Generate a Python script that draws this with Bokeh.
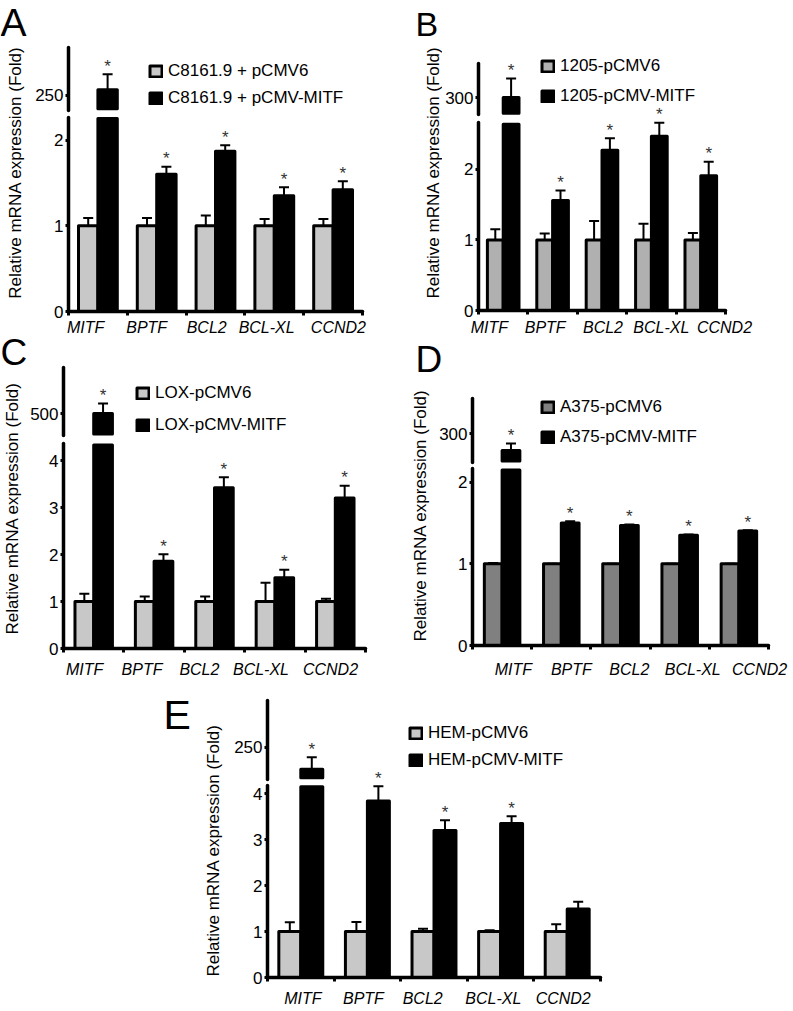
import numpy as np
from bokeh.plotting import figure
from bokeh.models import (Range1d, LinearAxis, FixedTicker, ColumnDataSource, CDSView,
                          BooleanFilter, Legend, LegendItem, Spacer)
from bokeh.layouts import row, column
from bokeh.core.properties import value
from bokeh.embed import file_html
from bokeh.resources import INLINE

FONT = "Liberation Sans"

# ---------------- data ----------------
genes = ["MITF", "BPTF", "BCL2", "BCL-XL", "CCND2"]
y_title = "Relative mRNA expression (Fold)"

a_series = ["C8161.9 + pCMV6", "C8161.9 + pCMV-MITF"]
a_ctrl = [1.0, 1.0, 1.0, 1.0, 1.0]
a_ctrl_err = [0.09, 0.09, 0.12, 0.08, 0.08]
a_mitf = [261.0, 1.60, 1.87, 1.35, 1.42]
a_mitf_err = [31.0, 0.09, 0.07, 0.10, 0.10]
a_sig = [True, True, True, True, True]
a_low_ticks = [0, 1, 2]
a_up_ticks = [250]

b_series = ["1205-pCMV6", "1205-pCMV-MITF"]
b_ctrl = [1.0, 1.0, 1.0, 1.0, 1.0]
b_ctrl_err = [0.15, 0.09, 0.27, 0.23, 0.10]
b_mitf = [301.0, 1.56, 2.27, 2.47, 1.91]
b_mitf_err = [38.0, 0.14, 0.17, 0.19, 0.20]
b_sig = [True, True, True, True, True]
b_low_ticks = [0, 1, 2]
b_up_ticks = [300]

c_series = ["LOX-pCMV6", "LOX-pCMV-MITF"]
c_ctrl = [1.0, 1.0, 1.0, 1.0, 1.0]
c_ctrl_err = [0.17, 0.11, 0.11, 0.40, 0.06]
c_mitf = [500.0, 1.86, 3.43, 1.51, 3.21]
c_mitf_err = [30.0, 0.15, 0.22, 0.17, 0.26]
c_sig = [True, True, True, True, True]
c_low_ticks = [0, 1, 2, 3, 4]
c_up_ticks = [500]

d_series = ["A375-pCMV6", "A375-pCMV-MITF"]
d_ctrl = [1.0, 1.0, 1.0, 1.0, 1.0]
d_ctrl_err = [0.01, 0.0, 0.0, 0.0, 0.0]
d_mitf = [266.0, 1.50, 1.47, 1.35, 1.40]
d_mitf_err = [14.0, 0.02, 0.01, 0.01, 0.01]
d_sig = [True, True, True, True, True]
d_low_ticks = [0, 1, 2]
d_up_ticks = [300]

e_series = ["HEM-pCMV6", "HEM-pCMV-MITF"]
e_ctrl = [1.0, 1.0, 1.0, 1.0, 1.0]
e_ctrl_err = [0.20, 0.21, 0.06, 0.03, 0.16]
e_mitf = [206.0, 3.84, 3.20, 3.35, 1.49]
e_mitf_err = [24.0, 0.32, 0.22, 0.16, 0.16]
e_sig = [True, True, True, True, False]
e_low_ticks = [0, 1, 2, 3, 4]
e_up_ticks = [250]


# ---------------- helpers ----------------
def blank_fig(w, h):
    p = figure(width=w, height=h, x_range=Range1d(0, w), y_range=Range1d(0, h),
               min_border=0, toolbar_location=None, output_backend="svg", title=None,
               x_axis_location=None, y_axis_location=None, outline_line_color=None,
               background_fill_color="white", border_fill_color="white")
    p.grid.visible = False
    return p


def add_text(p, x, y, text, size, angle=0.0, align="left"):
    p.text(x=[x], y=[y], text=[text], angle=angle, text_font=value(FONT),
           text_font_size=value(size), text_align=align, text_baseline="middle",
           text_color="black")


def line_axis(range_name, bounds):
    ax = LinearAxis(y_range_name=range_name, bounds=bounds, ticker=FixedTicker(ticks=[]))
    ax.axis_line_width = 3.5
    ax.axis_line_color = "black"
    ax.axis_line_cap = "round"
    ax.major_tick_out = 0
    ax.major_tick_in = 0
    ax.minor_tick_out = 0
    ax.minor_tick_in = 0
    ax.major_tick_line_color = None
    ax.minor_tick_line_color = None
    ax.major_label_standoff = 0
    ax.major_label_text_font_size = "0px"
    return ax


def main_fig(g, series, ctrl, ctrl_err, trt, trt_err, sig, low_ticks, up_ticks):
    n = len(genes)
    W = g["x1"] - g["x0"]
    H = g["y1"] - g["y0"]
    unit = g["unit"]
    lo_top = (g["base"] - g["y0"]) / unit
    lhi = (g["base"] - g["brk_bot"]) / unit
    s, tv, tp = g["s"], g["tv"], g["tp"]
    up_start = tv - (g["base"] - tp) * s
    up_end = tv + (tp - g["y0"]) * s
    ulo = tv - (g["brk_top"] - tp) * s
    uhi = tv + (tp - g["axis_top"]) * s
    # bar ends at the break, inset by half the outline width
    lo_cut = (g["base"] - g["brk_bot"] - 1.5) / unit
    up_cut = tv - (g["brk_top"] - 1.5 - tp) * s

    p = figure(width=W, height=H, x_range=Range1d(0, n), y_range=Range1d(0, lo_top),
               min_border_left=g["ax"] - g["x0"], min_border_right=g["x1"] - g["frx"],
               min_border_top=0, min_border_bottom=g["y1"] - g["base"], title=None,
               y_axis_location=None,
               toolbar_location=None, output_backend="svg", outline_line_color=None,
               background_fill_color="white", border_fill_color="white")
    p.extra_y_ranges = {"up": Range1d(up_start, up_end)}
    p.grid.visible = False

    bw = g["bw"]
    centers = np.arange(n) + 0.5
    ctrl = np.array(ctrl, float)
    trt = np.array(trt, float)
    src = ColumnDataSource(dict(
        xc=centers - bw / 2, xt=centers + bw / 2,
        ctrl=ctrl, ctrl_top=ctrl + np.array(ctrl_err),
        trt=trt, trt_top=trt + np.array(trt_err),
        star=["*"] * n,
    ))
    above = [bool(v > lhi) for v in trt]
    below = [not a for a in above]
    low_star = [bool(sig[i] and not above[i]) for i in range(n)]
    up_star = [bool(sig[i] and above[i]) for i in range(n)]

    def view(mask):
        return CDSView(filter=BooleanFilter(mask))

    bar_kw = dict(line_color="black", line_width=3, line_join="round")
    r_ctrl = p.vbar(x="xc", width=bw, bottom=0, top="ctrl", source=src,
                    fill_color=g["gray"], **bar_kw)
    r_trt = p.vbar(x="xt", width=bw, bottom=0, top="trt", source=src, view=view(below),
                   fill_color="black", **bar_kw)
    # broken bars: lower piece up to the break, upper piece from the break
    p.vbar(x="xt", width=bw, bottom=0, top=lo_cut, source=src, view=view(above),
           fill_color="black", **bar_kw)
    p.vbar(x="xt", width=bw, bottom=up_cut, top="trt", source=src, y_range_name="up",
           view=view(above), fill_color="black", **bar_kw)

    # error bars and stars
    err_kw = dict(line_color="black", line_width=2)
    p.segment(x0="xc", y0="ctrl", x1="xc", y1="ctrl_top", source=src, **err_kw)
    p.scatter(x="xc", y="ctrl_top", source=src, marker="dash", size=10, **err_kw)
    p.segment(x0="xt", y0="trt", x1="xt", y1="trt_top", source=src, view=view(below), **err_kw)
    p.scatter(x="xt", y="trt_top", source=src, view=view(below), marker="dash", size=10,
              **err_kw)
    p.segment(x0="xt", y0="trt", x1="xt", y1="trt_top", source=src, y_range_name="up",
              view=view(above), **err_kw)
    p.scatter(x="xt", y="trt_top", source=src, y_range_name="up", view=view(above),
              marker="dash", size=10, **err_kw)
    star_kw = dict(text="star", text_font=value(FONT), text_font_size=value("17px"),
                   text_align="center", text_baseline="middle", y_offset=-8,
                   text_color="#333333")
    p.text(x="xt", y="trt_top", source=src, view=view(low_star), **star_kw)
    p.text(x="xt", y="trt_top", source=src, y_range_name="up", view=view(up_star), **star_kw)

    # y axes: two rule-only axes (lower / upper segment) plus one tick+label axis
    p.add_layout(line_axis("default", (0, lhi)), "left")
    p.add_layout(line_axis("up", (ulo, uhi)), "left")
    up_pos = [(g["base"] - (tp + (tv - u) / s)) / unit for u in up_ticks]
    tick_ax = LinearAxis(ticker=FixedTicker(ticks=list(low_ticks) + up_pos))
    tick_ax.major_label_overrides = {pos: str(u) for pos, u in zip(up_pos, up_ticks)}
    tick_ax.axis_line_color = None
    tick_ax.major_tick_line_width = 3
    tick_ax.major_tick_line_color = "black"
    tick_ax.major_tick_out = 3
    tick_ax.major_tick_in = 0
    tick_ax.minor_tick_line_color = None
    tick_ax.major_label_text_font = FONT
    tick_ax.major_label_text_font_size = "17px"
    tick_ax.major_label_text_color = "black"
    tick_ax.major_label_standoff = 2
    p.add_layout(tick_ax, "left")

    xa = p.xaxis[0]
    xa.ticker = FixedTicker(ticks=g["xlab"], minor_ticks=list(range(n + 1)))
    xa.major_label_overrides = {pos: name for pos, name in zip(g["xlab"], genes)}
    xa.axis_line_width = 3.5
    xa.axis_line_color = "black"
    xa.axis_line_cap = "round"
    xa.major_tick_line_color = None
    xa.major_tick_out = 4
    xa.major_tick_in = 0
    xa.minor_tick_line_color = "black"
    xa.minor_tick_line_width = 3
    xa.minor_tick_out = 4
    xa.minor_tick_in = 0
    xa.major_label_text_font = FONT
    xa.major_label_text_font_style = "italic"
    xa.major_label_text_font_size = "16px"
    xa.major_label_text_color = "black"
    xa.major_label_standoff = g["xstand"]

    # legend
    ih = 21
    spacing = g["leg_pitch"] - ih
    leg_h = 2 * ih + spacing
    leg_top = g["leg_row1"] - ih / 2
    legend = Legend(items=[LegendItem(label=series[0], renderers=[r_ctrl]),
                           LegendItem(label=series[1], renderers=[r_trt])],
                    location=(g["leg_x"] - g["ax"], g["base"] - leg_top - leg_h),
                    label_text_font=FONT, label_text_font_size="17px",
                    label_text_color="black", glyph_width=15, glyph_height=14,
                    label_standoff=5, spacing=spacing, padding=0, margin=0,
                    label_height=ih, border_line_color=None, background_fill_alpha=0)
    p.add_layout(legend)
    return p


# ---------------- geometry (page pixels) ----------------
gA = dict(x0=28, x1=400, y0=0, y1=338, ax=68, frx=362, base=312, brk_top=110, brk_bot=117,
          axis_top=47, unit=86.0, tv=250, tp=95, s=2.0, bw=0.33, gray="#c8c8c8",
          xlab=[0.29, 1.33, 2.35, 3.37, 4.59], xstand=3,
          leg_x=148, leg_row1=72, leg_pitch=27)
gB = dict(x0=442, x1=793, y0=0, y1=338, ax=476, frx=725, base=312, brk_top=115, brk_bot=123,
          axis_top=63, unit=71.0, tv=300, tp=98, s=2.0, bw=0.32, gray="#b0b0b0",
          xlab=[0.22, 1.35, 2.52, 3.70, 4.98], xstand=4,
          leg_x=538, leg_row1=68, leg_pitch=30)
gC = dict(x0=27, x1=400, y0=338, y1=683, ax=61, frx=365, base=648, brk_top=435, brk_bot=443,
          axis_top=367, unit=46.9, tv=500, tp=413, s=3.0, bw=0.31, gray="#c8c8c8",
          xlab=[0.35, 1.30, 2.25, 3.27, 4.42], xstand=8,
          leg_x=133, leg_row1=393, leg_pitch=32)
gD = dict(x0=431, x1=793, y0=385, y1=683, ax=472, frx=768, base=645, brk_top=462, brk_bot=468,
          axis_top=398, unit=81.7, tv=300, tp=433, s=2.0, bw=0.30, gray="#808080",
          xlab=[0.69, 1.67, 2.65, 3.72, 4.85], xstand=11,
          leg_x=540, leg_row1=407, leg_pitch=30)
gE = dict(x0=224, x1=620, y0=683, y1=1009, ax=267, frx=600, base=978, brk_top=779, brk_bot=785,
          axis_top=700, unit=46.1, tv=250, tp=747, s=2.0, bw=0.33, gray="#c8c8c8",
          xlab=[0.53, 1.44, 2.33, 3.39, 4.44], xstand=8,
          leg_x=408, leg_row1=734, leg_pitch=27)

fA = main_fig(gA, a_series, a_ctrl, a_ctrl_err, a_mitf, a_mitf_err, a_sig, a_low_ticks, a_up_ticks)
fB = main_fig(gB, b_series, b_ctrl, b_ctrl_err, b_mitf, b_mitf_err, b_sig, b_low_ticks, b_up_ticks)
fC = main_fig(gC, c_series, c_ctrl, c_ctrl_err, c_mitf, c_mitf_err, c_sig, c_low_ticks, c_up_ticks)
fD = main_fig(gD, d_series, d_ctrl, d_ctrl_err, d_mitf, d_mitf_err, d_sig, d_low_ticks, d_up_ticks)
fE = main_fig(gE, e_series, e_ctrl, e_ctrl_err, e_mitf, e_mitf_err, e_sig, e_low_ticks, e_up_ticks)

YT = "17px"
HALF_PI = np.pi / 2

# panel A: label column spans the full panel height (letter on top)
lA = blank_fig(28, 338)
add_text(lA, 0, 314.6, "A", "39px")
add_text(lA, 15, 151, y_title, YT, HALF_PI, "center")
# panel B
lB = blank_fig(42, 338)
add_text(lB, 15, 312.9, "B", "34px")
add_text(lB, 33, 150.5, y_title, YT, HALF_PI, "center")
# panel C
lC = blank_fig(27, 345)
add_text(lC, 0, 329, "C", "37px")
add_text(lC, 12, 156, y_title, YT, HALF_PI, "center")
# panel D: letter strip above
sD = blank_fig(393, 47)
add_text(sD, 15, 26, "D", "37px")
lD = blank_fig(31, 298)
add_text(lD, 20, 149, y_title, YT, HALF_PI, "center")
# panel E
lE = blank_fig(64, 326)
add_text(lE, 3, 291.4, "E", "41px")
add_text(lE, 53, 141, y_title, YT, HALF_PI, "center")

panelA = row(lA, fA, spacing=0)
panelB = row(lB, fB, spacing=0)
panelC = row(lC, fC, spacing=0)
panelD = column(sD, row(lD, fD, spacing=0), spacing=0)
row1 = row(panelA, panelB, spacing=0)
row2 = row(panelC, panelD, spacing=0)
row3 = row(Spacer(width=160, height=326), lE, fE, spacing=0)
layout = column(row1, row2, row3, spacing=0)

with open("out.html", "w") as fh:
    fh.write(file_html(layout, INLINE))
